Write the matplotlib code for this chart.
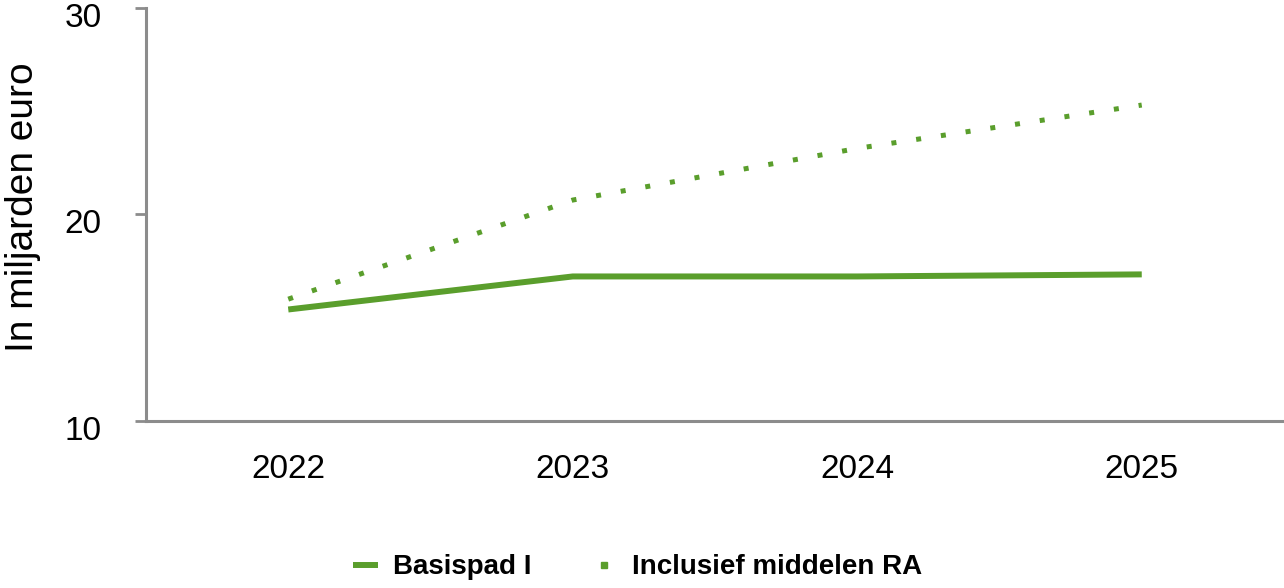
import matplotlib.pyplot as plt
import matplotlib.transforms as mtransforms
from matplotlib.lines import Line2D

years = ["2022", "2023", "2024", "2025"]
basispad = [15.4, 17.0, 17.0, 17.1]
inclusief = [15.9, 20.7, 23.2, 25.3]
y_ticks = [10, 20, 30]

green = "#5a9e2c"
axis_grey = "#8c8c8c"

plt.rcParams['font.family'] = ['Liberation Sans', 'DejaVu Sans']

fig = plt.figure(figsize=(12.84, 5.88), dpi=100)
ax = fig.add_axes([146 / 1284, 1 - 421 / 588, 1 - 146 / 1284, 413 / 588])

x = list(range(len(years)))
ax.plot(x, basispad, color=green, linewidth=4.3, solid_capstyle='butt', label="Basispad I")
ax.plot(x, inclusief, color=green, linewidth=3.6, linestyle=(0, (1, 4)),
        dash_capstyle='butt', label="Inclusief middelen RA")

ax.set_xlim(-0.5, len(years) - 0.5)
ax.set_ylim(10, 30)
ax.set_xticks(x)
ax.set_xticklabels(years)
ax.set_yticks(y_ticks)

for side in ["top", "right"]:
    ax.spines[side].set_visible(False)
for side in ["left", "bottom"]:
    ax.spines[side].set_color(axis_grey)
    ax.spines[side].set_linewidth(2.2)

ax.tick_params(axis='y', direction='out', length=8, width=2, color=axis_grey,
               labelsize=24, pad=24)
ax.tick_params(axis='x', length=0, labelsize=24, pad=24)

# y tick labels sit a little below their ticks in the original
shift = mtransforms.ScaledTranslation(0, -7 / 100, fig.dpi_scale_trans)
for lbl in ax.get_yticklabels():
    lbl.set_transform(lbl.get_transform() + shift)

ax.set_ylabel("In miljarden euro", fontsize=28)
ax.yaxis.set_label_coords(-0.0925, 0.518)

handles = [
    Line2D([], [], color=green, linewidth=4.3, solid_capstyle='butt'),
    Line2D([], [], color=green, linestyle='none', marker='s', markersize=4.5),
]
fig.legend(handles, ["Basispad I", "Inclusief middelen RA"], loc='center',
           bbox_to_anchor=(0.4965, 0.035), ncol=2, frameon=False,
           prop={'family': ['Liberation Sans Narrow', 'Liberation Sans'],
                 'weight': 'bold', 'size': 20},
           handlelength=0.9, columnspacing=2.15, handletextpad=0.55)

fig.savefig("out.png", dpi=100)
